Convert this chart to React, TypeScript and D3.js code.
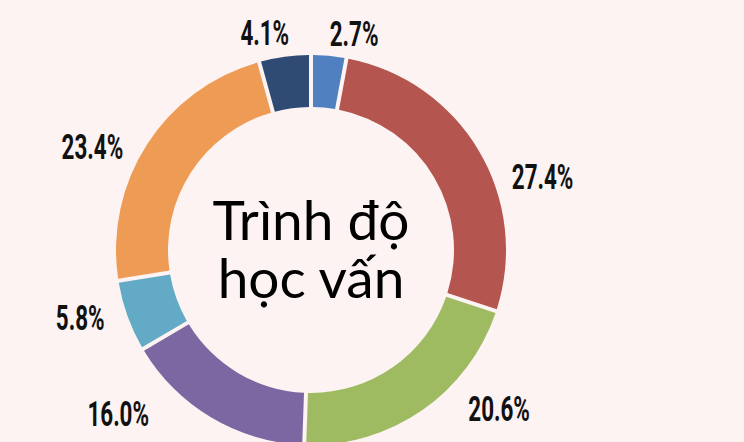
import React from "react";
import * as d3 from "d3";

// Data (clockwise from 12 o'clock)
const categories = ["A", "B", "C", "D", "E", "F", "G"];
const values = [2.7, 27.4, 20.6, 16.0, 5.8, 23.4, 4.1];
const labels = ["2.7%", "27.4%", "20.6%", "16.0%", "5.8%", "23.4%", "4.1%"];
const colors = ["#5080BF", "#B5554F", "#9FBB62", "#7C67A3", "#62AAC6", "#EE9C55", "#2F4B73"];
const centerLines = ["Trình độ", "học vấn"];

// Layout for labels (polar, relative to each slice's mid angle)
const labelShiftDeg = [6, 13, -15, 19, 3.4, -7.5, -4.3];
const labelRadius = [221, 243, 246, 252.6, 240.6, 241.7, 222];

const W = 744;
const H = 442;
const CX = 311;
const CY = 250;
const R_OUT = 195;
const R_IN = 143;

export default function App() {
  const pie = d3
    .pie<number>()
    .sort(null)
    .value((d) => d)
    .startAngle(0)
    .endAngle(2 * Math.PI)
    .padAngle(0.0165);
  const arcs = pie(values);
  const arc = d3.arc<d3.PieArcDatum<number>>().innerRadius(R_IN).outerRadius(R_OUT);

  return (
    <svg
      width={W}
      height={H}
      style={{ position: "absolute", left: 0, top: 0, display: "block" }}
    >
      <rect width={W} height={H} fill="#FDF3F2" />
      <g transform={`translate(${CX},${CY})`}>
        {arcs.map((a, i) => (
          <path key={categories[i]} d={arc(a) || ""} fill={colors[i]} />
        ))}
        {arcs.map((a, i) => {
          const mid = (a.startAngle + a.endAngle) / 2 + (labelShiftDeg[i] * Math.PI) / 180;
          const r = labelRadius[i];
          const x = r * Math.sin(mid);
          const y = -r * Math.cos(mid);
          return (
            <g key={"l" + i} transform={`translate(${x},${y + 12.5}) scale(0.64,1)`}>
              <text
                textAnchor="middle"
                fontFamily="Roboto, 'Liberation Sans', sans-serif"
                fontWeight={700}
                fontSize={35}
                fill="#111"
              >
                {labels[i]}
              </text>
            </g>
          );
        })}
        <text
          textAnchor="middle"
          fontFamily="Lato, 'Open Sans', sans-serif"
          fontSize={55}
          fill="#000"
        >
          {centerLines.map((t, i) => (
            <tspan key={"c" + i} x={0} y={-10 + i * 58}>
              {t}
            </tspan>
          ))}
        </text>
      </g>
    </svg>
  );
}
